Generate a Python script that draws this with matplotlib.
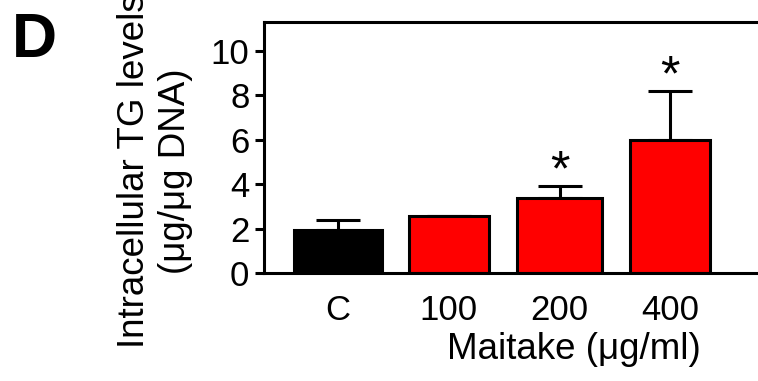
import matplotlib
matplotlib.use("Agg")
import matplotlib.pyplot as plt

plt.rcParams['font.family'] = ['Liberation Sans', 'DejaVu Sans']

groups = ["C", "100", "200", "400"]
tg_levels = [1.95, 2.55, 3.38, 6.0]
tg_sem = [0.45, 0.0, 0.55, 2.2]
significant = [False, False, True, True]

bar_colors = ["black", "red", "red", "red"]
bar_widths = [0.79, 0.72, 0.77, 0.72]

fig = plt.figure(figsize=(7.58, 3.81), dpi=100)
ax = fig.add_axes([0.3483, 0.2835, 0.66, 0.6588])

x = list(range(len(groups)))
ax.bar(x, tg_levels, width=bar_widths, color=bar_colors,
       edgecolor="black", linewidth=2.2, zorder=2)
ax.errorbar(x, tg_levels, yerr=[[0] * len(x), tg_sem], fmt="none",
            ecolor="black", elinewidth=2.2, capsize=16, capthick=2.2, zorder=1)

# asterisks above the error bars of significant groups
for xi, val, err, sig in zip(x, tg_levels, tg_sem, significant):
    if sig:
        ax.text(xi, val + err + 0.6, "*", ha="center", va="center",
                fontsize=36)

ax.set_xlim(-0.67, 3.85)
ax.set_ylim(0, 11.3)
ax.set_yticks([0, 2, 4, 6, 8, 10])
ax.set_xticks(x)
ax.set_xticklabels(groups)

for side in ["left", "bottom", "top"]:
    ax.spines[side].set_linewidth(2.2)
ax.spines["right"].set_visible(False)

ax.tick_params(axis="y", direction="out", length=6.5, width=2.2,
               labelsize=25, pad=4)
ax.tick_params(axis="x", length=0, labelsize=25, pad=15)

ax.set_xlabel("Maitake (μg/ml)", fontsize=26.5)
ax.xaxis.set_label_coords(0.62, -0.235)

fig.text(155 / 758, 1 - 171 / 381, "Intracellular TG levels\n(μg/μg DNA)",
         rotation=90, ha="center", va="center", fontsize=26.5,
         multialignment="center", linespacing=1.25)

fig.text(12 / 758, 1 - 57 / 381, "D", fontsize=45, fontweight="bold",
         ha="left", va="baseline")

fig.savefig("out.png", dpi=100)
